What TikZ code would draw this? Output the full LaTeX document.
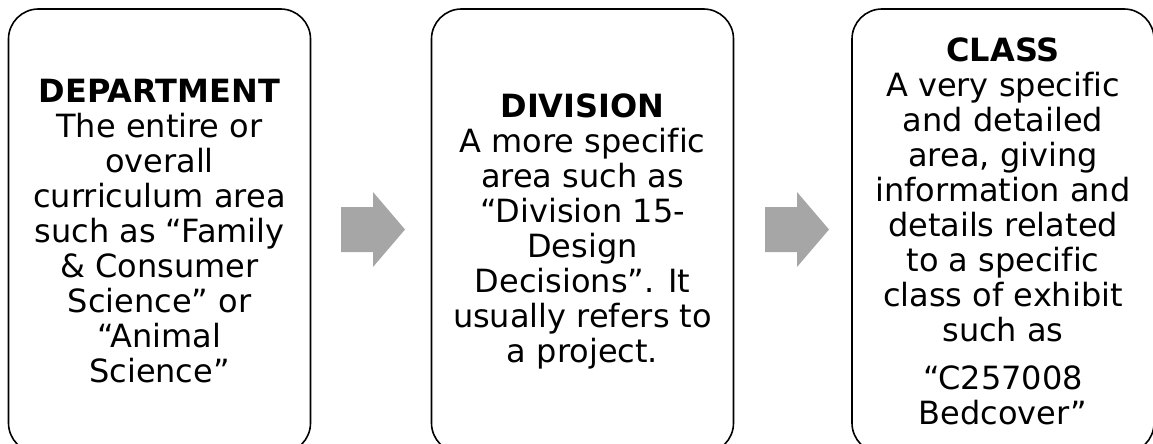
\documentclass[tikz,border=0pt]{standalone}
\usepackage{fontspec}
\setmainfont[Ligatures=NoCommon]{DejaVu Sans}
\definecolor{arrowgray}{HTML}{A6A6A6}
\tikzset{
  card/.style={draw=black, line width=1.6pt, rounded corners=30pt, fill=white,
    align=center, inner sep=0pt, minimum width=302pt, minimum height=444pt,
    font=\fontsize{32}{35}\selectfont},
  blockarrow/.style={fill=arrowgray, draw=none}
}
\begin{document}
\begin{tikzpicture}[x=1pt, y=-1pt]
\useasboundingbox (0,0) rectangle (1153,444);
\clip (0,0) rectangle (1153,444);
\node[card] (dept) at (159.5,231) {\textbf{DEPARTMENT}\\The entire or\\overall\\curriculum area\\such as “Family\\\& Consumer\\Science” or\\“Animal\\Science”};
\node[card] (div) at (582.5,231) {\textbf{DIVISION}\\A more specific\\area such as\\“Division 15-\\Design\\Decisions”. It\\usually refers to\\a project.};
\node[card] (cls) at (1003,231) {\textbf{CLASS}\\A very specific\\and detailed\\area, giving\\information and\\details related\\to a specific\\class of exhibit\\such as\\[13pt]“C257008\\Bedcover”};
\coordinate (a1) at (341,229.5);
\coordinate (a2) at (765,229.5);
\fill[blockarrow] (a1) ++(0,-22.5) -- ++(32,0) -- ++(0,-15) -- ++(32,37.5) -- ++(-32,37.5) -- ++(0,-15) -- ++(-32,0) -- cycle;
\fill[blockarrow] (a2) ++(0,-22.5) -- ++(32,0) -- ++(0,-15) -- ++(32,37.5) -- ++(-32,37.5) -- ++(0,-15) -- ++(-32,0) -- cycle;
\end{tikzpicture}
\end{document}
